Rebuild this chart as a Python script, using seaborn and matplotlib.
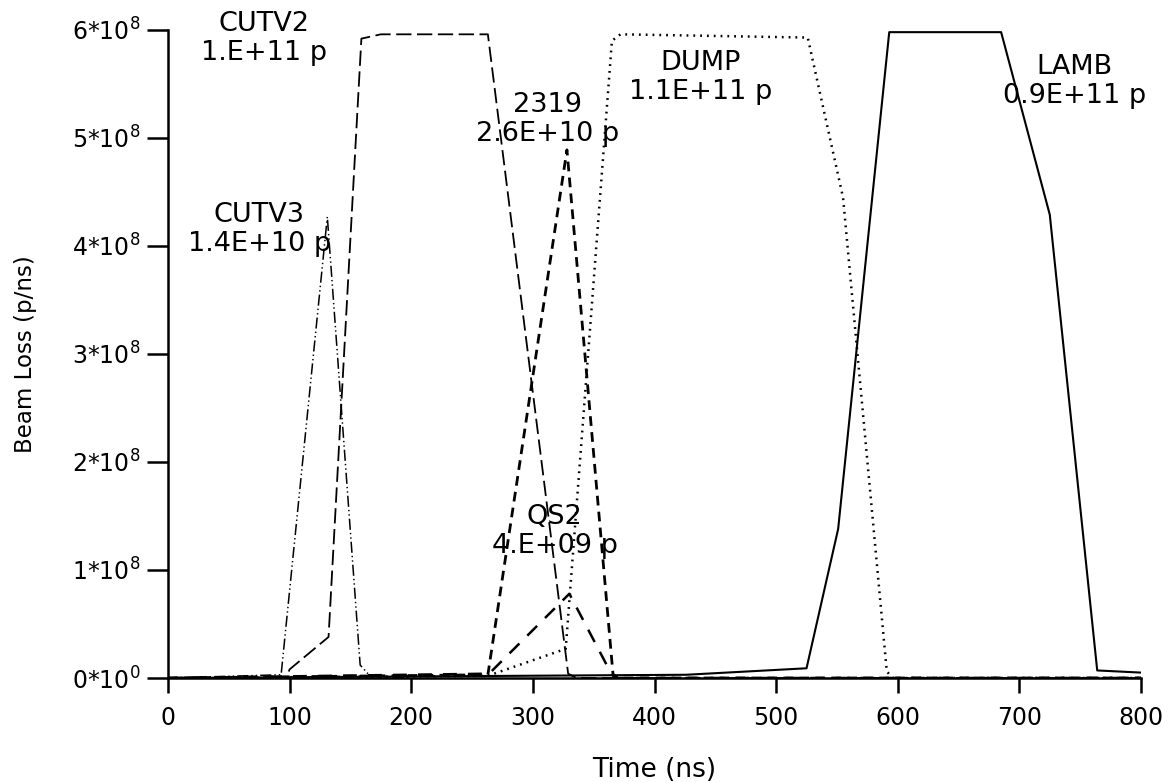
import numpy as np
import pandas as pd
import matplotlib
matplotlib.use("Agg")
import matplotlib.pyplot as plt
import seaborn as sns

# beam loss: time in ns, loss in units of 1e8 p/ns
time_cutv3 = [0, 93, 131, 158, 166, 200]
loss_cutv3 = [0, 0.03, 4.27, 0.12, 0.02, 0.0]

time_cutv2 = [0, 97, 100, 132, 159, 175, 263, 329, 336, 800]
loss_cutv2 = [0, 0.0, 0.08, 0.38, 5.92, 5.96, 5.96, 0.04, 0.0, 0.0]

time_2319 = [0, 263, 328, 366, 372, 800]
loss_2319 = [0, 0.03, 4.89, 0.02, 0.0, 0.0]

time_qs2 = [0, 264, 330, 364, 370, 800]
loss_qs2 = [0, 0.04, 0.78, 0.05, 0.0, 0.0]

time_dump = [0, 263, 327, 365, 372, 526, 555, 591, 596, 800]
loss_dump = [0, 0.02, 0.27, 5.90, 5.96, 5.93, 4.45, 0.06, 0.0, 0.0]

time_lamb = [0, 426, 525, 551, 593, 685, 725, 764, 800]
loss_lamb = [0, 0.03, 0.09, 1.38, 5.98, 5.98, 4.29, 0.07, 0.05]

# labels: name, total loss, text centre (ns, 1e8 p/ns)
label_names = ["CUTV2", "CUTV3", "2319", "QS2", "DUMP", "LAMB"]
label_totals = ["1.E+11 p", "1.4E+10 p", "2.6E+10 p", "4.E+09 p", "1.1E+11 p", "0.9E+11 p"]
label_x = [79, 75, 312, 318, 438, 745]
label_y = [5.92, 4.15, 5.17, 1.36, 5.56, 5.52]

x_ticks = [0, 100, 200, 300, 400, 500, 600, 700, 800]
y_ticks = [0, 1, 2, 3, 4, 5, 6]
y_tick_labels = ["0*10$^0$", "1*10$^8$", "2*10$^8$", "3*10$^8$",
                 "4*10$^8$", "5*10$^8$", "6*10$^8$"]

SCALE = 1e8

series = {
    "CUTV3": (time_cutv3, loss_cutv3),
    "CUTV2": (time_cutv2, loss_cutv2),
    "2319": (time_2319, loss_2319),
    "QS2": (time_qs2, loss_qs2),
    "DUMP": (time_dump, loss_dump),
    "LAMB": (time_lamb, loss_lamb),
}

# dash patterns in points (scale_dashes off)
line_dashes = {
    "CUTV3": (8, 2.2, 1, 2.2, 1, 2.2),
    "CUTV2": (11, 4),
    "2319": (7, 4.5),
    "QS2": (10, 8),
    "DUMP": (1.3, 3.6),
    "LAMB": "",
}
line_widths = {
    "CUTV3": 1.1,
    "CUTV2": 1.3,
    "2319": 2.0,
    "QS2": 1.8,
    "DUMP": 1.8,
    "LAMB": 1.5,
}

sns.set_style("ticks")
plt.rcParams["font.family"] = ["DejaVu Sans"]
plt.rcParams["mathtext.default"] = "regular"
plt.rcParams["lines.scale_dashes"] = False
plt.rcParams["text.color"] = "black"
plt.rcParams["axes.labelcolor"] = "black"

frames = []
for name, (t, v) in series.items():
    frames.append(pd.DataFrame({"time": t, "loss": np.array(v) * SCALE, "source": name}))
df = pd.concat(frames, ignore_index=True)

fig = plt.figure(figsize=(11.73, 7.82), dpi=100)
ax = fig.add_axes([168 / 1173, 104 / 782, 973 / 1173, 648 / 782])

sns.lineplot(data=df, x="time", y="loss", style="source", size="source",
             dashes=line_dashes, sizes=line_widths, color="black",
             estimator=None, sort=False, legend=False, ax=ax)

for name, total, tx, ty in zip(label_names, label_totals, label_x, label_y):
    ax.text(tx, ty * SCALE, f"{name}\n{total}", ha="center", va="center",
            multialignment="center", fontsize=19.5, linespacing=1.15,
            color="black", clip_on=False)

ax.set_xlim(0, 800)
ax.set_ylim(0, 6 * SCALE)
ax.set_xticks(x_ticks)
ax.set_yticks([v * SCALE for v in y_ticks])
ax.set_yticklabels(y_tick_labels)

ax.set_xlabel("Time (ns)", fontsize=19)
ax.set_ylabel("Beam Loss (p/ns)", fontsize=16.5)
ax.xaxis.set_label_coords(0.5, -0.122)
ax.yaxis.set_label_coords(-0.135, 0.5)

sns.despine(ax=ax)
for side in ["left", "bottom"]:
    ax.spines[side].set_linewidth(1.8)
    ax.spines[side].set_color("black")
ax.tick_params(axis="both", direction="out", width=1.8, colors="black",
               labelsize=17)
ax.tick_params(axis="x", length=11, pad=9)
ax.tick_params(axis="y", length=15, pad=5)

fig.savefig("out.png", dpi=100)
